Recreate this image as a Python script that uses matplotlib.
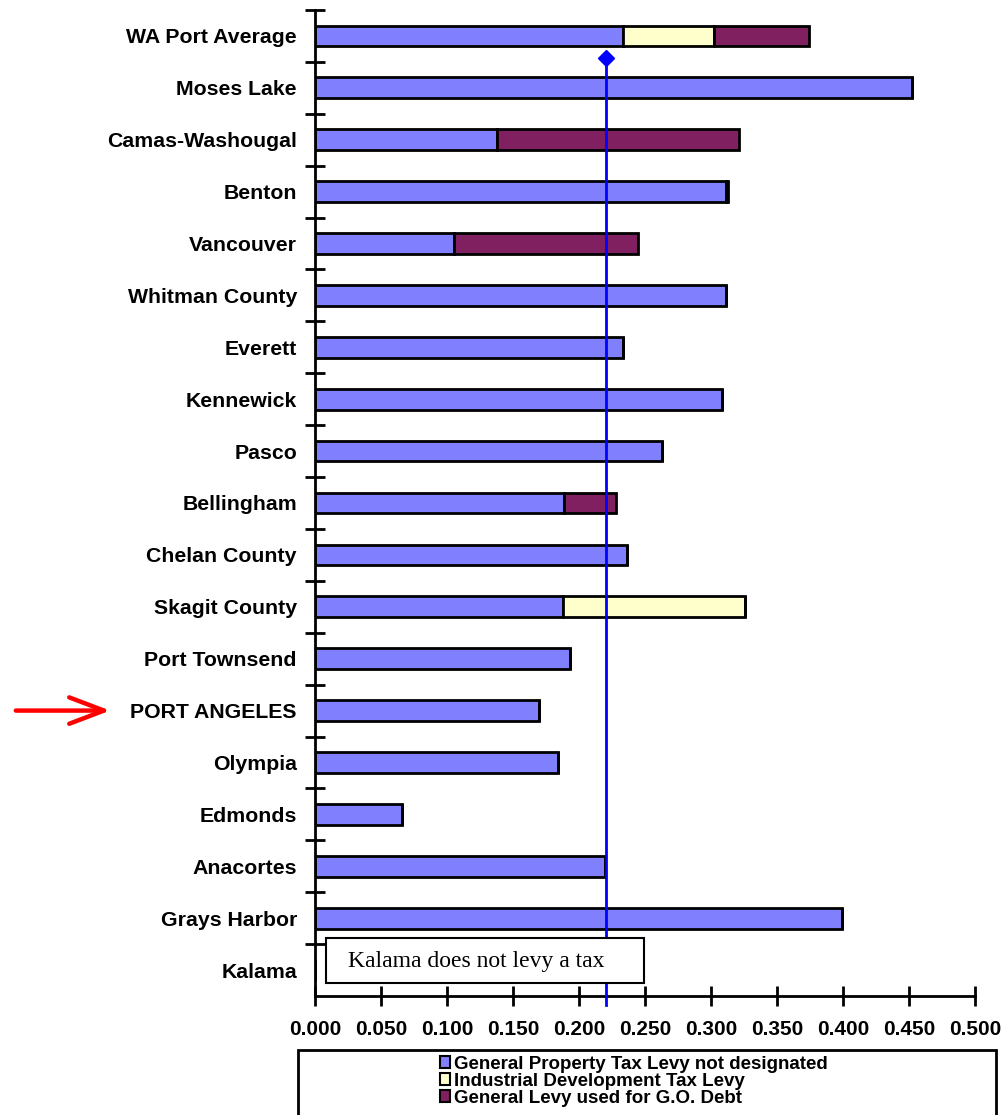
import numpy as np
import matplotlib.pyplot as plt
from matplotlib.patches import Patch, Rectangle

plt.rcParams['font.family'] = ['Liberation Sans', 'DejaVu Sans']

ports = ['WA Port Average', 'Moses Lake', 'Camas-Washougal', 'Benton',
         'Vancouver', 'Whitman County', 'Everett', 'Kennewick', 'Pasco',
         'Bellingham', 'Chelan County', 'Skagit County', 'Port Townsend',
         'PORT ANGELES', 'Olympia', 'Edmonds', 'Anacortes', 'Grays Harbor',
         'Kalama']

general  = [0.233, 0.452, 0.138, 0.311, 0.105, 0.311, 0.233, 0.308, 0.263,
            0.189, 0.236, 0.188, 0.193, 0.170, 0.184, 0.066, 0.220, 0.399,
            0.000]
industry = [0.069, 0.000, 0.000, 0.000, 0.000, 0.000, 0.000, 0.000, 0.000,
            0.000, 0.000, 0.138, 0.000, 0.000, 0.000, 0.000, 0.000, 0.000,
            0.000]
go_debt  = [0.072, 0.000, 0.183, 0.002, 0.140, 0.000, 0.000, 0.000, 0.000,
            0.039, 0.000, 0.000, 0.000, 0.000, 0.000, 0.000, 0.000, 0.000,
            0.000]

avg_levy = 0.2205
xticks = [0.0, 0.05, 0.1, 0.15, 0.2, 0.25, 0.3, 0.35, 0.4, 0.45, 0.5]

c_gen = '#8080FF'
c_ind = '#FFFFCC'
c_go  = '#802060'

fig = plt.figure(figsize=(10.05, 11.15), dpi=100)
ax = fig.add_axes([315/1005, 1 - 996/1115, 660/1005, 986/1115])

y = np.arange(len(ports))
general = np.array(general)
industry = np.array(industry)
go_debt = np.array(go_debt)

bh = 0.4
kw = dict(height=bh, edgecolor='black', linewidth=2.0, zorder=2)
ax.barh(y, general, color=c_gen, **kw)
ax.barh(y, industry, left=general, color=c_ind, **kw)
ax.barh(y, go_debt, left=general + industry, color=c_go, **kw)

# average line with diamond marker at the top
ax.plot([avg_levy, avg_levy], [0.42, len(ports) - 0.32], color='#0000FF',
        lw=2, zorder=3, clip_on=False)
ax.plot([avg_levy], [0.42], marker='D', color='#0000FF', ms=8, zorder=4)

ax.set_xlim(0, 0.5)
ax.set_ylim(len(ports) - 0.5, -0.5)

ax.set_yticks(y)
ax.set_yticklabels(ports, fontsize=15.3, fontweight='bold')
ax.tick_params(axis='y', which='major', length=0, pad=13)
ax.set_yticks(np.arange(-0.5, len(ports) - 0.5, 1.0), minor=True)
ax.tick_params(axis='y', which='minor', direction='inout', length=15, width=2)

ax.set_xticks(xticks)
ax.set_xticklabels(['{:.3f}'.format(v) for v in xticks], fontsize=15,
                   fontweight='bold')
ax.tick_params(axis='x', direction='inout', length=15, width=2, pad=10)

for s in ['top', 'right']:
    ax.spines[s].set_visible(False)
for s in ['left', 'bottom']:
    ax.spines[s].set_linewidth(2)

# note box for Kalama
ax.add_patch(Rectangle((0.0083, 17.38), 0.2407, 0.87, fc='white', ec='black',
                       lw=1.5, zorder=5))
ax.text(0.025, 17.84, 'Kalama does not levy a tax', family='Liberation Serif',
        fontsize=17, va='center', ha='left', zorder=6)

# arrow pointing at Port Angeles
ax.annotate('', xy=(113/1005, 13), xytext=(13/1005, 13),
            xycoords=('figure fraction', 'data'),
            textcoords=('figure fraction', 'data'),
            arrowprops=dict(arrowstyle='->,head_length=2.5,head_width=0.95',
                            color='red', lw=3.2))

# legend frame
fig.patches.append(Rectangle((298/1005, -0.02), 698/1005, 0.02 + 1 - 1050/1115,
                             transform=fig.transFigure, fill=False,
                             ec='black', lw=2))
handles = [Patch(fc=c_gen, ec='black', lw=1.5),
           Patch(fc=c_ind, ec='black', lw=1.5),
           Patch(fc=c_go, ec='black', lw=1.5)]
labels = ['General Property Tax Levy not designated',
          'Industrial Development Tax Levy',
          'General Levy used for G.O. Debt']
fig.legend(handles, labels, loc='upper left',
           bbox_to_anchor=(440/1005, 1 - 1056/1115), frameon=False,
           prop=dict(size=13.5, weight='bold'), handlelength=0.55,
           handleheight=0.6, handletextpad=0.2, labelspacing=0.0,
           borderpad=0, borderaxespad=0)

fig.savefig('out.png', dpi=100)
